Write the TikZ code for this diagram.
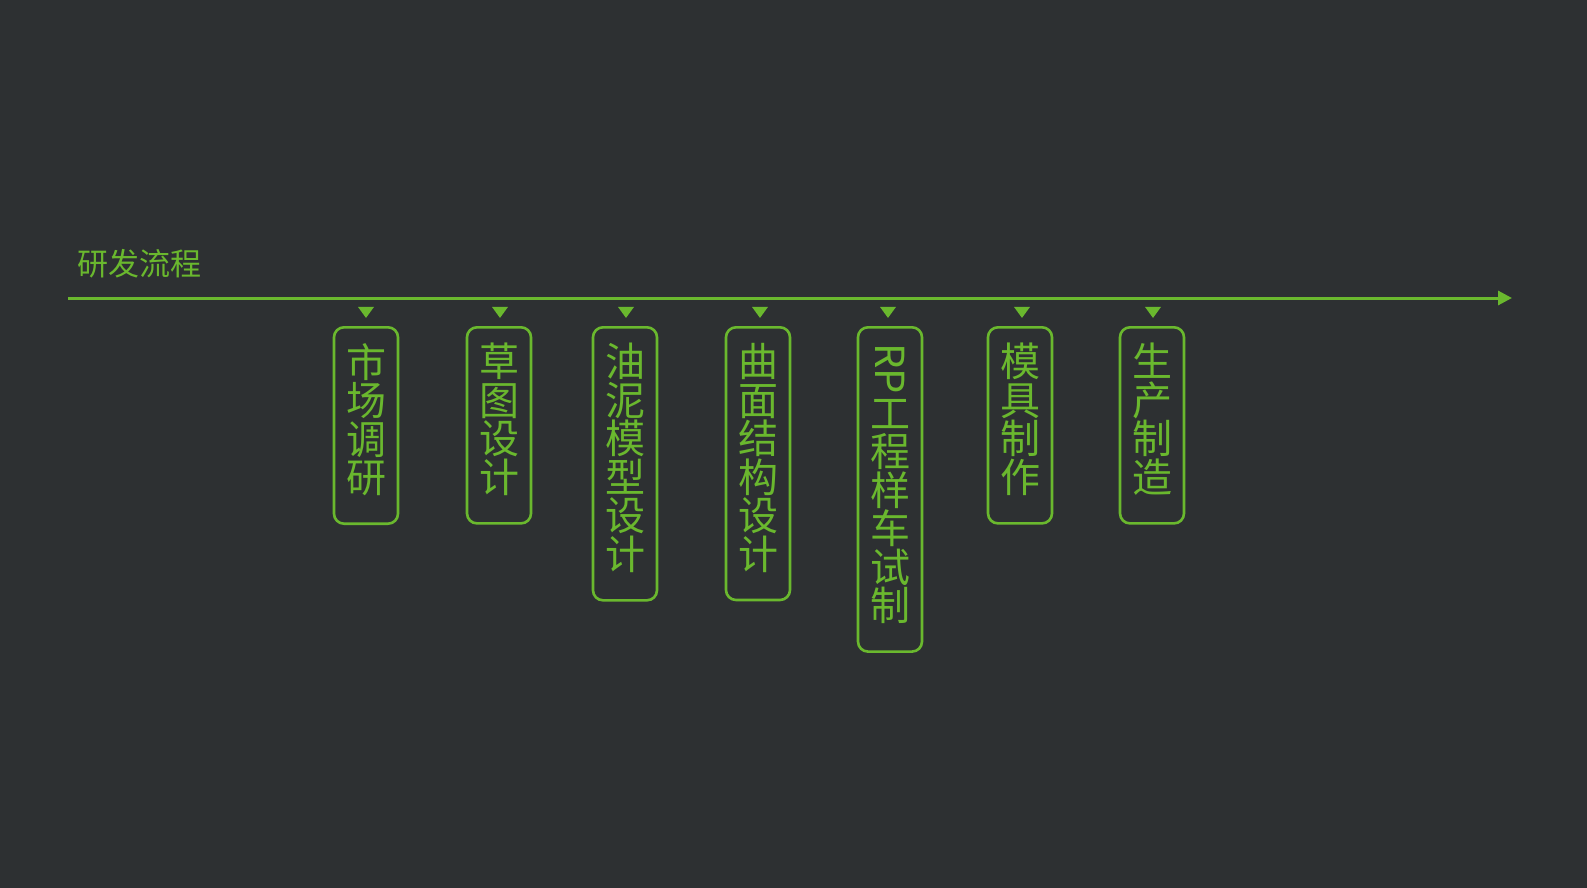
\documentclass[tikz,border=0pt]{standalone}
\usepackage{fontspec}
\usepackage{graphicx}
\setmainfont{Noto Sans CJK SC}
\usetikzlibrary{arrows.meta,shapes.geometric}
\definecolor{bgdark}{RGB}{45,48,50}
\definecolor{leafgreen}{RGB}{106,184,46}

\begin{document}
\begin{tikzpicture}[x=0.5pt,y=-0.5pt,
    stage box/.style={draw=leafgreen,line width=1.3pt,rounded corners=5pt,
        minimum width=32pt,inner xsep=0pt,inner ysep=8pt,anchor=north,
        text=leafgreen,align=center,font=\fontsize{20}{19.25}\selectfont,
        execute at end node={\rule[-7.5pt]{0pt}{7.5pt}}},
    stage mark/.style={isosceles triangle,shape border rotate=-90,fill=leafgreen,
        inner sep=0pt,minimum width=8pt,minimum height=5.5pt,isosceles triangle stretches},
    time line/.style={leafgreen,line width=1.5pt,-{Triangle[length=7pt,width=7pt]}}]
\fill[bgdark] (0,0) rectangle (1587,888);
\useasboundingbox (0,0) rectangle (1587,888);
% title and main line
\node[text=leafgreen,font=\fontsize{15.5}{16}\selectfont,anchor=west] (title) at (70,264) {研发流程};
\coordinate (lineL) at (68,298);
\coordinate (lineR) at (1512,298);
\draw[time line] (lineL) -- (lineR);
% stages
\node[stage box] (market) at (366,326) {市\\场\\调\\研};
\node[stage box] (sketch) at (499,326) {草\\图\\设\\计};
\node[stage box] (clay) at (625,326) {油\\泥\\模\\型\\设\\计};
\node[stage box] (surface) at (758,326) {曲\\面\\结\\构\\设\\计};
\node[stage box] (rpcar) at (890,326) {\rotatebox[origin=c]{-90}{RP}\\[1.5pt]工\\程\\样\\车\\试\\制};
\node[stage box] (mold) at (1020,326) {模\\具\\制\\作};
\node[stage box] (produce) at (1152,326) {生\\产\\制\\造};
% markers
\node[stage mark] (mkA) at (366,311) {};
\node[stage mark] (mkB) at (500,311) {};
\node[stage mark] (mkC) at (626,311) {};
\node[stage mark] (mkD) at (760,311) {};
\node[stage mark] (mkE) at (888,311) {};
\node[stage mark] (mkF) at (1022,311) {};
\node[stage mark] (mkG) at (1153,311) {};
\end{tikzpicture}
\end{document}
